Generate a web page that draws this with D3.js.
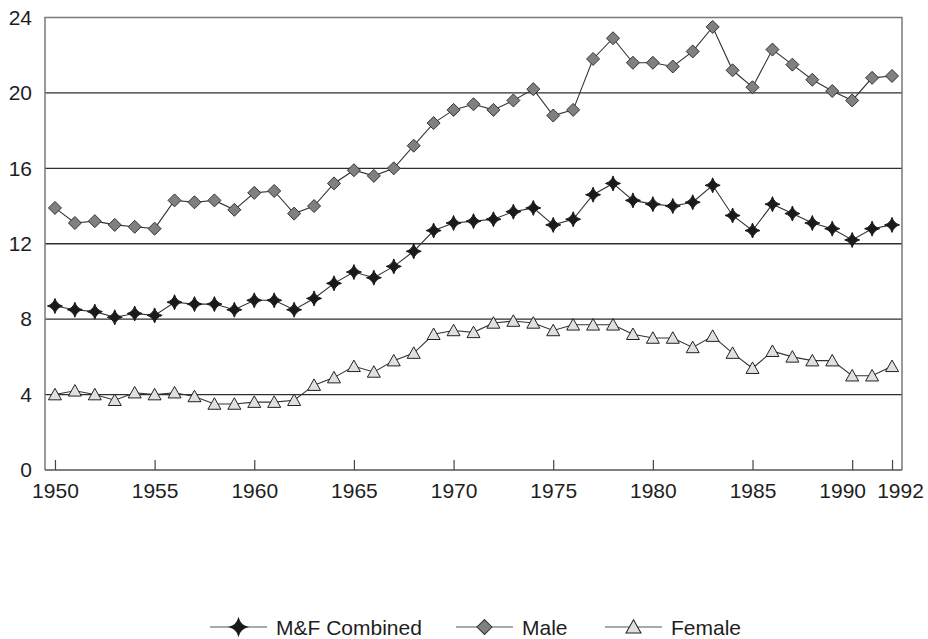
<!DOCTYPE html>
<html>
<head>
<meta charset="utf-8">
<script src="https://cdn.jsdelivr.net/npm/d3@7"></script>
<style>
  html, body { margin: 0; padding: 0; background: #fff; }
  svg { display: block; font-family: "Liberation Sans", Arial, sans-serif; }
</style>
</head>
<body>
<svg id="chart" width="928" height="639"></svg>
<script>
// Yearly rates, 1950–1992
const years = d3.range(1950, 1993);
const combined = [8.7, 8.5, 8.4, 8.1, 8.3, 8.2, 8.9, 8.8, 8.8, 8.5,
                  9.0, 9.0, 8.5, 9.1, 9.9, 10.5, 10.2, 10.8, 11.6, 12.7,
                  13.1, 13.2, 13.3, 13.7, 13.9, 13.0, 13.3, 14.6, 15.2, 14.3,
                  14.1, 14.0, 14.2, 15.1, 13.5, 12.7, 14.1, 13.6, 13.1, 12.8,
                  12.2, 12.8, 13.0];
const male = [13.9, 13.1, 13.2, 13.0, 12.9, 12.8, 14.3, 14.2, 14.3, 13.8,
              14.7, 14.8, 13.6, 14.0, 15.2, 15.9, 15.6, 16.0, 17.2, 18.4,
              19.1, 19.4, 19.1, 19.6, 20.2, 18.8, 19.1, 21.8, 22.9, 21.6,
              21.6, 21.4, 22.2, 23.5, 21.2, 20.3, 22.3, 21.5, 20.7, 20.1,
              19.6, 20.8, 20.9];
const female = [4.0, 4.2, 4.0, 3.7, 4.1, 4.0, 4.1, 3.9, 3.5, 3.5,
                3.6, 3.6, 3.7, 4.5, 4.9, 5.5, 5.2, 5.8, 6.2, 7.2,
                7.4, 7.3, 7.8, 7.9, 7.8, 7.4, 7.7, 7.7, 7.7, 7.2,
                7.0, 7.0, 6.5, 7.1, 6.2, 5.4, 6.3, 6.0, 5.8, 5.8,
                5.0, 5.0, 5.5];
const xTickYears = [1950, 1955, 1960, 1965, 1970, 1975, 1980, 1985, 1990, 1992];
const yTicks = [0, 4, 8, 12, 16, 20, 24];
const seriesNames = ["M&F Combined", "Male", "Female"];

const svg = d3.select("#chart");
const plotL = 45, plotR = 902, plotT = 17.5, plotB = 470;

const x = d3.scaleLinear().domain([1949.5, 1992.5]).range([plotL, plotR]);
const y = d3.scaleLinear().domain([0, 24]).range([plotB, plotT]);

// Horizontal gridlines
svg.append("g").selectAll("line")
  .data(yTicks.filter(v => v > 0 && v < 24))
  .join("line")
  .attr("x1", plotL).attr("x2", plotR)
  .attr("y1", d => y(d)).attr("y2", d => y(d))
  .attr("stroke", "#2e2e2e").attr("stroke-width", 1.4);

// Plot frame: top and right in grey, left and bottom axes
svg.append("path")
  .attr("d", `M${plotL},${plotB}V${plotT}H${plotR}V${plotB}`)
  .attr("fill", "none").attr("stroke", "#7a7a7a").attr("stroke-width", 1.5);
svg.append("line")
  .attr("x1", plotL).attr("x2", plotR).attr("y1", plotB).attr("y2", plotB)
  .attr("stroke", "#555").attr("stroke-width", 1.5);

// Y axis labels
const yAxis = d3.axisLeft(y).tickValues(yTicks).tickSize(0).tickPadding(13);
const gy = svg.append("g").attr("transform", `translate(${plotL},0)`).call(yAxis);
gy.select(".domain").remove();
gy.selectAll("text")
  .attr("font-size", 21).attr("fill", "#1e1e1e")
  .attr("font-family", "'Liberation Sans', Arial, sans-serif");

// X axis: ticks point inward, labels below
const xAxis = d3.axisBottom(x).tickValues(xTickYears).tickFormat(d3.format("d"))
  .tickSizeInner(-10).tickSizeOuter(0).tickPadding(13);
const gx = svg.append("g").attr("transform", `translate(0,${plotB})`).call(xAxis);
gx.select(".domain").remove();
gx.selectAll(".tick line").attr("stroke", "#444").attr("stroke-width", 1.2);
gx.selectAll("text")
  .attr("font-size", 21).attr("fill", "#1e1e1e")
  .attr("font-family", "'Liberation Sans', Arial, sans-serif")
  .attr("dx", d => d === 1990 ? -10 : d === 1992 ? 8 : 0);

// Marker shapes
const starPath = r => {
  const k = r * 0.22;
  return `M0,${-r}Q${k},${-k} ${r},0Q${k},${k} 0,${r}Q${-k},${k} ${-r},0Q${-k},${-k} 0,${-r}Z`;
};
const diamondPath = r => `M0,${-r}L${r},0L0,${r}L${-r},0Z`;
const trianglePath = (w, h) => `M0,${-h / 2 - 1}L${w / 2},${h / 2}L${-w / 2},${h / 2}Z`;

const series = [
  { name: seriesNames[0], values: combined, path: starPath(7.5), fill: "#1a1a1a", stroke: "#1a1a1a" },
  { name: seriesNames[1], values: male, path: diamondPath(6.5), fill: "#808080", stroke: "#333" },
  { name: seriesNames[2], values: female, path: trianglePath(13, 10.5), fill: "#e0e0e0", stroke: "#222" }
];

const line = d3.line().x((d, i) => x(years[i])).y(d => y(d));

series.forEach(s => {
  const g = svg.append("g");
  g.append("path")
    .attr("d", line(s.values))
    .attr("fill", "none").attr("stroke", "#333").attr("stroke-width", 1.1);
  g.selectAll("path.mk")
    .data(s.values)
    .join("path")
    .attr("class", "mk")
    .attr("d", s.path)
    .attr("transform", (d, i) => `translate(${x(years[i])},${y(d)})`)
    .attr("fill", s.fill).attr("stroke", s.stroke).attr("stroke-width", 1);
});

// Legend
const legendX = [210, 456, 605];
const legendY = 627;
const lg = svg.append("g");
series.forEach((s, i) => {
  const g = lg.append("g").attr("transform", `translate(${legendX[i]},${legendY})`);
  g.append("line").attr("x1", 0).attr("x2", 57).attr("y1", 0).attr("y2", 0)
    .attr("stroke", "#555").attr("stroke-width", 1.2);
  g.append("path").attr("d", s.path).attr("transform", "translate(28.5,0) scale(1.15)")
    .attr("fill", s.fill).attr("stroke", s.stroke).attr("stroke-width", 0.9);
  g.append("text").attr("x", 66).attr("y", 7.5)
    .attr("font-size", 21).attr("fill", "#1e1e1e")
    .text(s.name);
});
</script>
</body>
</html>
